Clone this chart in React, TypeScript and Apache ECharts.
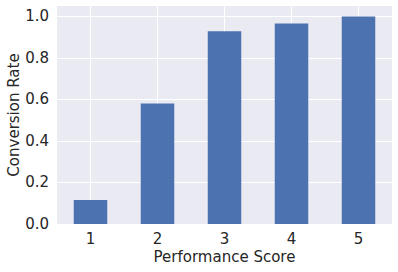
import React, { useEffect, useRef } from "react";
import * as echarts from "echarts";

const categories = ["1", "2", "3", "4", "5"];
const conversionRate = [0.116, 0.58, 0.928, 0.966, 1.0];
const yTicks = [0, 0.2, 0.4, 0.6, 0.8, 1.0];

const TEXT = "#262626";
const FONT = "DejaVu Sans";

export default function App() {
  const ref = useRef<HTMLDivElement>(null);
  useEffect(() => {
    if (!ref.current) return;
    const chart = echarts.init(ref.current, undefined, { renderer: "svg" });
    chart.setOption({
      animation: false,
      backgroundColor: "#ffffff",
      textStyle: { fontFamily: FONT },
      grid: {
        left: 57,
        right: 6,
        top: 6,
        bottom: 48,
        containLabel: false,
        outerBoundsMode: "none",
        show: true,
        backgroundColor: "#EAEAF2",
        borderWidth: 0,
      },
      xAxis: {
        type: "category",
        data: categories,
        boundaryGap: true,
        name: "Performance Score",
        nameLocation: "middle",
        nameGap: 25,
        nameMoveOverlap: false,
        nameTextStyle: { color: TEXT, fontSize: 15, fontFamily: FONT },
        axisLine: { show: false },
        axisTick: { show: false, alignWithLabel: true },
        axisLabel: { color: TEXT, fontSize: 15, fontFamily: FONT, margin: 7 },
        splitLine: {
          show: true,
          alignWithLabel: true,
          lineStyle: { color: "#ffffff", width: 1 },
        },
      },
      yAxis: {
        type: "value",
        min: 0,
        max: 1.05,
        interval: 0.2,
        name: "Conversion Rate",
        nameLocation: "middle",
        nameGap: 36,
        nameMoveOverlap: false,
        nameRotate: 90,
        nameTextStyle: { color: TEXT, fontSize: 15, fontFamily: FONT },
        axisLine: { show: false },
        axisTick: { show: false },
        axisLabel: {
          color: TEXT,
          fontSize: 15,
          fontFamily: FONT,
          margin: 8,
          showMaxLabel: false,
          formatter: (v: number) =>
            yTicks.some((t) => Math.abs(t - v) < 1e-6) ? v.toFixed(1) : "",
        },
        splitLine: {
          show: true,
          showMaxLine: false,
          lineStyle: { color: "#ffffff", width: 1 },
        },
      },
      series: [
        {
          type: "bar",
          data: conversionRate,
          barWidth: "50%",
          itemStyle: { color: "#4C72B0" },
          z: 2,
        },
      ],
    });
    return () => chart.dispose();
  }, []);
  return (
    <div
      ref={ref}
      style={{ position: "fixed", left: 0, top: 0, width: 398, height: 272 }}
    />
  );
}
